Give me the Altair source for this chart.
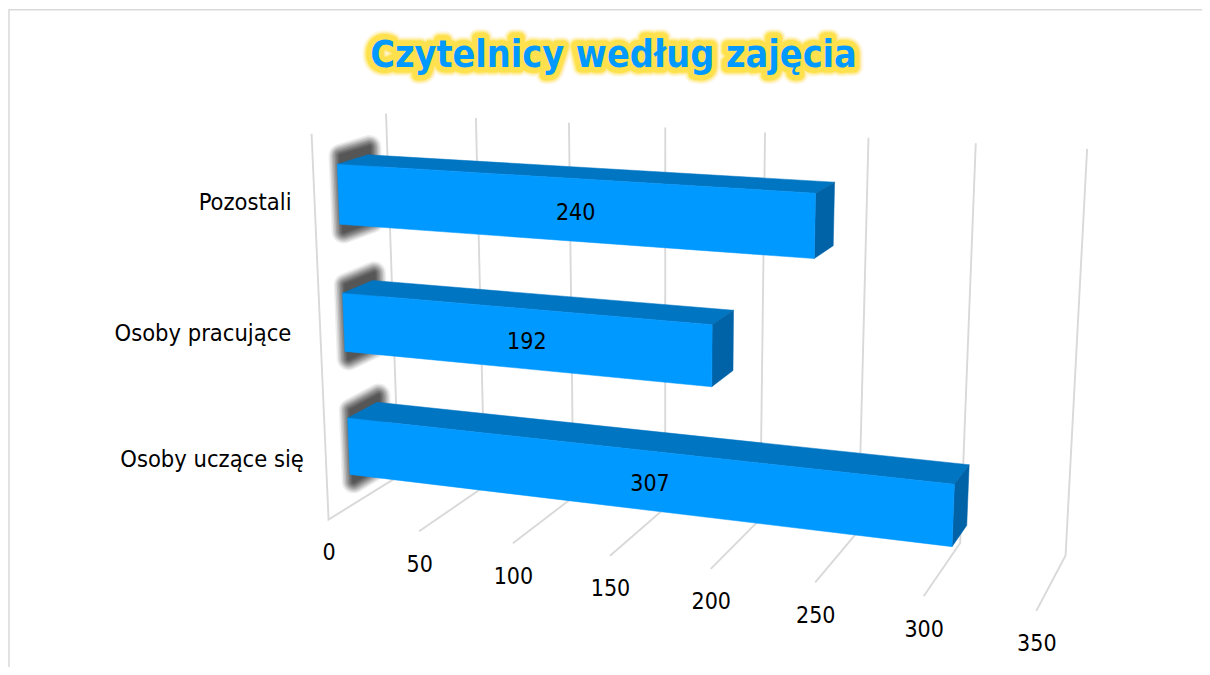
import altair as alt
import numpy as np
import pandas as pd

TITLE = "Czytelnicy według zajęcia"
CATEGORIES = ["Osoby uczące się", "Osoby pracujące", "Pozostali"]
VALUES = [307, 192, 240]
TICKS = [0, 50, 100, 150, 200, 250, 300, 350]
AX_MAX = 350

W, H = 1194, 659
XS = alt.Scale(domain=[8, 8 + W], nice=False, zero=False)
YS = alt.Scale(domain=[8 + H, 8], nice=False, zero=False)

# perspective camera of the 3-D chart: (value share, depth, height) -> picture
P = np.array([
    [583.88, 96.463, -31.9838, 328.562],
    [18.3051, -11.7941, -392.216, 519.506],
    [-0.119528, 0.0663403, -0.0481697, 1.0],
])

def proj(value, depth, height):
    q = P @ np.array([value/AX_MAX, depth, height, 1.0])
    return q[0]/q[2], q[1]/q[2]

Y0, Y1 = 0.31, 0.725
HALF = 0.077
Z_SHIFT = -0.004
rows_grid, rows_bar, rows_shadow, rows_val = [], [], [], []
for t in TICKS:
    pts = [proj(t,0,0), proj(t,1,0), proj(t,1,1)]
    if t == 0:
        pts = [proj(0,0,1)] + pts
    for k, (x, y) in enumerate(pts):
        rows_grid.append(dict(px=x, py=y, g=t, k=k))
for c, (name, val) in enumerate(zip(CATEGORIES, VALUES)):
    zc = (c + 0.5) / 3 + Z_SHIFT
    z0, z1 = zc - HALF, zc + HALF
    faces = {
        "top": [(0,Y0,z1),(val,Y0,z1),(val,Y1,z1),(0,Y1,z1),(0,Y0,z1)],
        "side": [(val,Y0,z0),(val,Y1,z0),(val,Y1,z1),(val,Y0,z1),(val,Y0,z0)],
        "front": [(0,Y0,z0),(val,Y0,z0),(val,Y0,z1),(0,Y0,z1),(0,Y0,z0)],
    }
    for f, pts in faces.items():
        for k, p in enumerate(pts):
            x, y = proj(*p)
            rows_bar.append(dict(px=x, py=y, f=f, g=f"{c}{f}", k=k))
    s0, s1, sv, sy = z0 - 0.018, z1 + 0.022, 2, 0.70
    for k, p in enumerate([(sv,Y0,s0),(sv,sy,s0),(sv,sy,s1),(sv,Y0,s1),(sv,Y0,s0)]):
        x, y = proj(*p)
        rows_shadow.append(dict(px=x, py=y, g=c, k=k))
    corners = [proj(0,Y0,z0),proj(val,Y0,z0),proj(val,Y0,z1),proj(0,Y0,z1)]
    rows_val.append(dict(px=np.mean([q[0] for q in corners]), py=np.mean([q[1] for q in corners]), t=str(val)))

grid = pd.DataFrame(rows_grid)
bars = pd.DataFrame(rows_bar)
shadow = pd.DataFrame(rows_shadow)
vals = pd.DataFrame(rows_val)
tick_df = pd.DataFrame([dict(px=proj(t,0,0)[0], py=proj(t,0,0)[1], t=str(t)) for t in TICKS])
gaps = [22, 29, 23]
cat_df = pd.DataFrame([dict(px=proj(0,0,(c+0.5)/3)[0]-gaps[c], py=proj(0,0,(c+0.5)/3)[1], t=n) for c, n in enumerate(CATEGORIES)])

enc = dict(x=alt.X("px:Q", scale=XS, axis=None), y=alt.Y("py:Q", scale=YS, axis=None))
FONT = "DejaVu Sans Condensed"

def poly(df, **mk):
    return alt.Chart(df).mark_line(**mk).encode(**enc, detail="g:N", order="k:Q")

layers = []
frame = pd.DataFrame(dict(px=[9, 9, 8+W], py=[8+H, 9.7, 9.7], g=0, k=[0,1,2]))
layers.append(poly(frame, color="#d9d9d9", strokeWidth=1.5))
layers.append(poly(grid, color="#d9d9d9", strokeWidth=1.9))
for w, o in [(24,.08),(21,.12),(18,.15),(15,.18),(12,.2),(9,.22),(6,.25),(3,.25)]:
    layers.append(poly(shadow, color="#303030", fill="#303030", strokeWidth=w, opacity=o, strokeJoin="round", strokeCap="round"))
for f, col in [("top","#0075c2"),("side","#0063a8"),("front","#0099ff")]:
    layers.append(poly(bars[bars.f==f], color=col, fill=col, strokeWidth=0.5))
layers.append(alt.Chart(vals).mark_text(font=FONT, fontSize=23, color="black", dx=-1, dy=3).encode(**enc, text="t:N"))
layers.append(alt.Chart(tick_df).mark_text(font=FONT, fontSize=23, color="black", dx=0.5, dy=33.5).encode(**enc, text="t:N"))
layers.append(alt.Chart(cat_df).mark_text(font=FONT, fontSize=23.5, color="black", align="right", dy=2.5).encode(**enc, text="t:N"))
title_df = pd.DataFrame([dict(px=613.5, py=56, t=TITLE)])
for w, o in [(19,.1),(17,.15),(15,.25),(13,.4),(11,1)]:
    layers.append(alt.Chart(title_df).mark_text(font=FONT, fontSize=37.4, fontWeight="bold", fill="#ffe14d", stroke="#ffe14d",
                  strokeWidth=w, opacity=o, strokeJoin="round").encode(**enc, text="t:N"))
layers.append(alt.Chart(title_df).mark_text(font=FONT, fontSize=37.4, fontWeight="bold", color="#0099ff").encode(**enc, text="t:N"))

chart = alt.layer(*layers).properties(width=W, height=H, padding=0, autosize=alt.AutoSizeParams(type="none")).configure_view(stroke=None)
chart.save("out.html", embed_options={"renderer": "svg", "actions": False})
